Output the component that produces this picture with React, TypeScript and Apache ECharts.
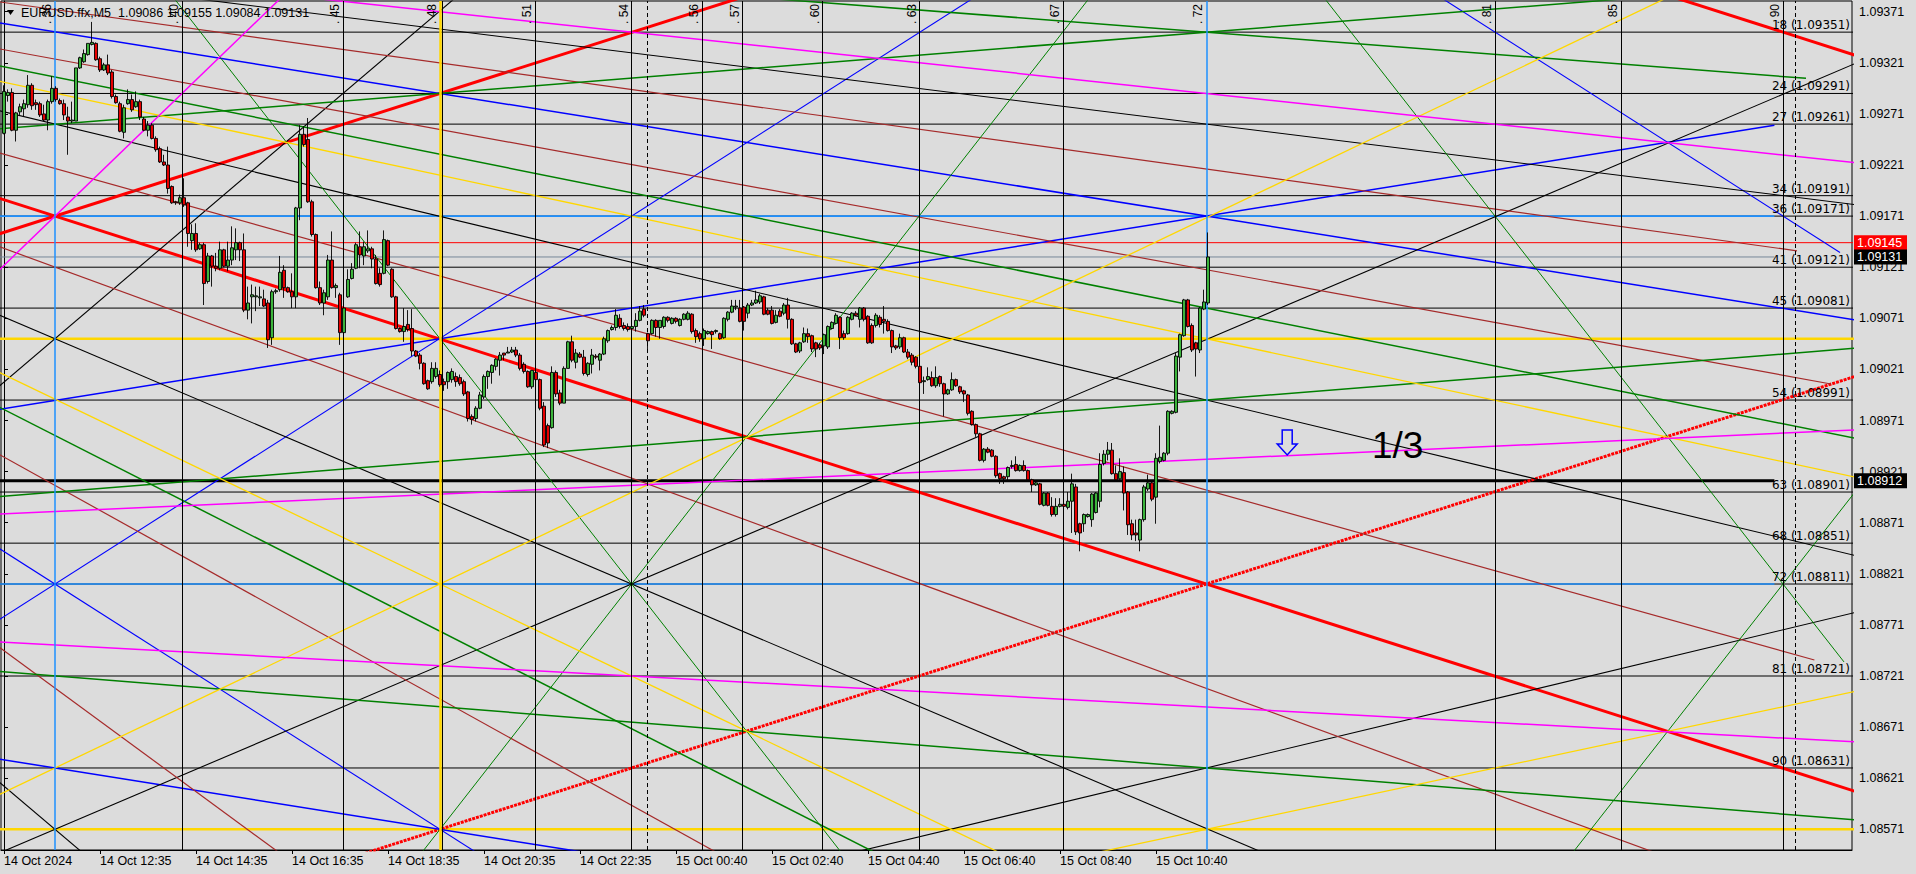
import React, { useEffect, useRef } from "react";
import * as echarts from "echarts";

// ---------- DATA ----------
const HEADER = "EURUSD.ffx,M5  1.09086 1.09155 1.09084 1.09131";

// OHLC of each M5 bar in points (price x 100000): [open, high, low, close]; bar 0 = 14 Oct 10:35
const CANDLES: number[][] = [
[109252,109299,109251,109293],[109289,109295,109283,109292],[109292,109296,109254,109255],[109255,109273,109244,109272],
[109273,109281,109270,109278],[109276,109285,109268,109281],[109280,109309,109277,109299],[109299,109301,109275,109279],
[109282,109285,109275,109280],[109281,109283,109268,109270],[109271,109280,109264,109265],[109265,109285,109255,109283],
[109283,109308,109281,109296],[109296,109298,109283,109285],[109284,109286,109280,109281],[109281,109285,109265,109270],
[109268,109278,109231,109264],[109264,109283,109262,109265],[109264,109316,109264,109316],[109316,109327,109315,109326],
[109322,109334,109321,109330],[109329,109340,109328,109340],[109339,109361,109338,109341],[109340,109341,109323,109324],
[109325,109327,109312,109314],[109314,109321,109313,109319],[109319,109329,109309,109311],[109312,109314,109286,109288],
[109288,109290,109281,109282],[109281,109283,109253,109254],[109253,109280,109247,109277],[109281,109295,109280,109285],
[109285,109290,109273,109275],[109278,109293,109277,109283],[109283,109285,109265,109268],[109266,109268,109254,109255],
[109255,109264,109249,109260],[109260,109262,109246,109247],[109247,109249,109234,109236],[109237,109239,109223,109224],
[109224,109231,109220,109221],[109221,109239,109193,109198],[109200,109201,109183,109184],[109185,109186,109182,109184],
[109184,109192,109182,109189],[109189,109208,109180,109182],[109184,109185,109141,109154],[109147,109163,109138,109154],
[109154,109164,109136,109138],[109139,109145,109138,109143],[109143,109145,109084,109105],[109107,109135,109105,109132],
[109132,109133,109102,109122],[109122,109135,109117,109120],[109120,109146,109118,109138],[109138,109139,109121,109122],
[109122,109146,109117,109128],[109128,109161,109123,109140],[109138,109159,109128,109145],[109145,109146,109127,109138],
[109138,109154,109077,109079],[109079,109102,109070,109086],[109092,109104,109066,109094],[109092,109102,109078,109093],
[109091,109102,109083,109092],[109090,109099,109082,109083],[109086,109089,109042,109050],[109052,109099,109045,109097],
[109097,109100,109095,109098],[109099,109132,109097,109116],[109118,109123,109091,109101],[109101,109102,109096,109097],
[109097,109115,109081,109092],[109092,109180,109081,109179],[109179,109260,109167,109251],[109251,109259,109239,109241],
[109246,109267,109184,109185],[109185,109187,109151,109153],[109153,109154,109100,109101],[109101,109107,109084,109086],
[109086,109099,109074,109096],[109092,109133,109089,109128],[109128,109156,109100,109101],[109101,109105,109091,109103],
[109094,109096,109045,109057],[109057,109088,109056,109081],[109092,109119,109091,109109],[109110,109125,109109,109119],
[109120,109145,109119,109143],[109141,109156,109120,109133],[109132,109146,109123,109141],[109137,109157,109135,109139],
[109139,109141,109120,109129],[109129,109133,109104,109105],[109115,109120,109102,109104],[109115,109157,109114,109148],
[109147,109148,109122,109123],[109119,109120,109091,109092],[109092,109093,109060,109061],[109061,109062,109057,109058],
[109058,109081,109048,109063],[109065,109079,109058,109060],[109061,109080,109034,109039],[109039,109040,109033,109034],
[109035,109037,109021,109027],[109027,109028,109006,109007],[109010,109011,109001,109002],[109009,109028,109007,109022],
[109014,109028,109012,109022],[109016,109020,109004,109006],[109009,109012,109000,109006],[109009,109019,109002,109018],
[109011,109022,109008,109019],[109014,109018,109004,109009],[109013,109016,109005,109007],[109009,109011,108995,108997],
[108999,109000,108970,108973],[108975,108977,108967,108972],[108973,108985,108970,108983],[108983,108999,108982,108996],
[108994,109016,108992,109014],[109014,109020,109002,109019],[109018,109026,109007,109025],[109024,109032,109020,109031],
[109030,109038,109015,109035],[109037,109037,109030,109035],[109037,109043,109037,109038],[109038,109043,109037,109040],
[109040,109043,109033,109035],[109035,109037,109020,109022],[109026,109028,109017,109019],[109019,109020,109003,109004],
[109004,109020,109002,109020],[109018,109020,109008,109011],[109011,109012,108981,108983],[108985,108989,108945,108947],
[108966,108968,108944,108949],[108964,109024,108963,109018],[109018,109020,108994,108997],[108998,109001,108986,108988],
[108988,109024,108988,109022],[109022,109049,109022,109048],[109048,109054,109028,109030],[109028,109041,109022,109037],
[109036,109038,109032,109033],[109033,109040,109015,109017],[109016,109028,109014,109027],[109026,109041,109017,109035],
[109034,109036,109031,109033],[109030,109037,109020,109036],[109036,109053,109035,109051],[109049,109060,109047,109059],
[109060,109064,109059,109062],[109062,109080,109059,109074],[109071,109075,109061,109063],[109064,109067,109059,109061],
[109063,109066,109058,109060],[109061,109066,109058,109063],[109063,109076,109058,109069],[109069,109083,109068,109078],
[109080,109084,109072,109074],[109056,109057,109037,109049],[109056,109070,109055,109069],[109069,109070,109053,109062],
[109062,109069,109051,109069],[109063,109073,109061,109072],[109072,109073,109067,109069],[109066,109072,109065,109071],
[109071,109072,109066,109068],[109064,109071,109063,109070],[109070,109076,109069,109075],[109070,109078,109069,109076],
[109075,109076,109056,109058],[109059,109061,109047,109053],[109056,109058,109048,109051],[109051,109061,109044,109059],
[109056,109059,109055,109058],[109058,109059,109041,109055],[109058,109060,109056,109059],[109056,109057,109050,109051],
[109052,109072,109051,109071],[109070,109078,109068,109077],[109077,109089,109076,109083],[109082,109089,109079,109083],
[109081,109089,109067,109068],[109082,109083,109059,109068],[109076,109086,109071,109084],[109084,109089,109083,109086],
[109086,109098,109085,109089],[109087,109095,109085,109093],[109092,109093,109074,109075],[109079,109081,109074,109075],
[109079,109083,109065,109066],[109067,109079,109066,109074],[109078,109080,109072,109073],[109076,109086,109074,109084],
[109084,109091,109061,109070],[109070,109071,109045,109046],[109046,109047,109037,109038],[109039,109048,109037,109047],
[109048,109062,109047,109056],[109056,109061,109047,109053],[109054,109055,109038,109041],[109047,109048,109033,109041],
[109045,109047,109040,109042],[109044,109056,109036,109055],[109043,109064,109041,109063],[109061,109068,109060,109067],
[109066,109076,109065,109074],[109072,109073,109041,109052],[109056,109059,109050,109052],[109056,109073,109055,109072],
[109070,109077,109069,109076],[109076,109078,109073,109074],[109070,109082,109062,109081],[109081,109082,109068,109070],
[109073,109074,109046,109047],[109064,109066,109046,109047],[109064,109076,109062,109074],[109072,109074,109062,109065],
[109070,109083,109056,109068],[109068,109070,109058,109059],[109059,109060,109037,109043],[109044,109045,109040,109042],
[109043,109056,109041,109052],[109052,109053,109037,109038],[109038,109041,109031,109033],[109035,109037,109025,109028],
[109033,109034,109022,109024],[109024,109025,109007,109008],[109009,109014,108997,109010],[109011,109023,109010,109014],
[109013,109019,109004,109005],[109005,109024,109003,109013],[109014,109015,109004,109007],[109007,109008,108975,108997],
[108997,109002,108996,109001],[109001,109018,109000,109011],[109011,109012,109004,109005],[109004,109005,108997,108999],
[109000,109001,108989,108997],[108996,108997,108976,108978],[108980,108981,108966,108967],[108967,108968,108955,108958],
[108958,108959,108931,108932],[108932,108944,108930,108943],[108943,108945,108939,108940],[108942,108943,108935,108936],
[108936,108937,108915,108917],[108919,108920,108909,108914],[108916,108917,108909,108914],[108916,108926,108912,108925],
[108926,108932,108924,108927],[108928,108936,108921,108922],[108922,108928,108921,108927],[108927,108932,108921,108922],
[108922,108923,108912,108913],[108913,108914,108901,108908],[108908,108911,108907,108910],[108909,108910,108888,108889],
[108888,108901,108887,108900],[108900,108901,108887,108888],[108887,108896,108877,108879],[108879,108895,108877,108887],
[108887,108895,108886,108889],[108889,108890,108886,108887],[108886,108901,108884,108892],[108892,108919,108861,108909],
[108906,108909,108859,108862],[108870,108871,108843,108861],[108870,108880,108862,108879],[108877,108880,108876,108879],
[108874,108900,108867,108899],[108881,108901,108880,108900],[108892,108939,108886,108928],[108929,108942,108927,108938],
[108938,108950,108932,108942],[108942,108949,108918,108919],[108919,108927,108912,108913],[108914,108934,108913,108921],
[108920,108926,108883,108900],[108901,108902,108859,108869],[108870,108874,108854,108859],[108861,108874,108853,108859],
[108854,108875,108843,108874],[108874,108908,108872,108906],[108904,108918,108902,108910],[108910,108911,108892,108894],
[108896,108939,108870,108934],[108931,108966,108929,108935],[108932,108940,108931,108939],[108939,108981,108937,108980],
[108978,108981,108977,108980],[108979,109037,108978,109034],[109033,109056,109019,109055],[109054,109090,109053,109089],
[109089,109090,109062,109063],[109064,109066,109038,109040],[109047,109048,109014,109041],[109040,109082,109037,109081],
[109080,109099,109079,109087],[109086,109155,109084,109131],
];

const TIME_LABELS: [number, string][] = [
  [0, "14 Oct 2024"], [24, "14 Oct 12:35"], [48, "14 Oct 14:35"], [72, "14 Oct 16:35"],
  [96, "14 Oct 18:35"], [120, "14 Oct 20:35"], [144, "14 Oct 22:35"], [168, "15 Oct 00:40"],
  [192, "15 Oct 02:40"], [216, "15 Oct 04:40"], [240, "15 Oct 06:40"], [264, "15 Oct 08:40"],
  [288, "15 Oct 10:40"],
];

const PRICE_TICKS: number[] = [
  1.08571, 1.08621, 1.08671, 1.08721, 1.08771, 1.08821, 1.08871, 1.08921, 1.08971,
  1.09021, 1.09071, 1.09121, 1.09171, 1.09221, 1.09271, 1.09321, 1.09371,
];

// Gann time lines (bar position)
const T = {
  V36: 12.75, V40: 44.5, V45: 84.75, V48: 109, V51: 132.7, V54: 156.9, V56: 174.5, V57: 184.65,
  V60: 204.65, V63: 228.9, V67: 264.75, V72: 300.6, V81: 372.75, V85: 404.25, V90: 444.75,
};
const TIME_LINES: [string, number, string][] = [
  ["36", T.V36, "lblue"], ["40", T.V40, "black"], ["45", T.V45, "black"], ["48", T.V48, "gold"],
  ["", 109.6, "black"], ["51", T.V51, "black"], ["54", T.V54, "black"], ["", 160.75, "dash"],
  ["56", T.V56, "black"], ["57", T.V57, "black"], ["60", T.V60, "black"], ["63", T.V63, "black"],
  ["67", T.V67, "black"], ["72", T.V72, "lblue"], ["81", T.V81, "black"], ["85", T.V85, "black"],
  ["90", T.V90, "black"], ["", 447.9, "dash"],
];

// Gann price levels
const LEVELS: [number, number][] = [
  [18, 1.09351], [24, 1.09291], [27, 1.09261], [34, 1.09191], [36, 1.09171], [41, 1.09121],
  [45, 1.09081], [54, 1.08991], [63, 1.08901], [68, 1.08851], [72, 1.08811], [81, 1.08721], [90, 1.08631],
];
const GOLD_LEVELS = [1.09051, 1.08571];
const ALERT_PRICE = 1.09145;
const BID_PRICE = 1.09131;
const MARK_PRICE = 1.08912;
const LEVEL_SEGMENT_END = 442.6; // bar where the short level objects stop
const BLUE_LEVELS = [1.09171, 1.08811];

// Trend / angle lines: [style, bar1, price1, bar2, price2, lastBar?]
const TRENDS: [string, number, number, number, number, number?][] = [
  ["redThick", T.V36, 1.09171, T.V72, 1.08811],
  ["redThick", T.V36, 1.09171, T.V48, 1.09291],
  ["redDotted", T.V72, 1.08811, T.V48, 1.08571],
  ["redThick", T.V90, 1.09351, T.V81, 1.09441],
  ["blue", T.V48, 1.09291, T.V72, 1.09171],
  ["blue", T.V48, 1.09051, T.V72, 1.09171, 442.6],
  ["blueThin", T.V36, 1.08811, T.V54, 1.09171],
  ["blueThin", T.V36, 1.08811, T.V48, 1.08571],
  ["blue", T.V36, 1.08631, T.V48, 1.08571],
  ["blueThin", T.V81, 1.09351, T.V90, 1.09171, 459],
  ["black", T.V36, 1.08571, T.V54, 1.08811],
  ["black", T.V36, 1.09051, T.V54, 1.08811],
  ["black", T.V36, 1.09051, T.V45, 1.09291],
  ["black", T.V36, 1.08571, T.V45, 1.08332],
  ["black", T.V36, 1.09261, T.V72, 1.08991],
  ["black", T.V72, 1.09261, T.V90, 1.09191],
  ["black", T.V72, 1.08631, T.V90, 1.087662],
  ["brown", -1, 1.093805, 448.25, 1.09137, 448.25],
  ["brown", -1, 1.093345, 456.75, 1.090067, 456.75],
  ["brown", -1, 1.092327, 452.6, 1.087367, 452.6],
  ["brown", -1, 1.091408, 411, 1.085507],
  ["brown", -0.2, 1.089356, 159, 1.085899],
  ["brown", -0.2, 1.087464, 67.9, 1.085507],
  ["green", -1, 1.093179, T.V72, 1.09081],
  ["green", T.V48, 1.09291, T.V72, 1.09351],
  ["green", T.V72, 1.09351, 450.5, 1.093058, 450.5],
  ["green", T.V36, 1.08901, T.V72, 1.08991],
  ["green", T.V36, 1.08721, T.V72, 1.08631],
  ["green", -0.3, 1.089823, 159, 1.086652],
  ["greenThin", T.V48, 1.09051, T.V54, 1.08811],
  ["greenThin", T.V48, 1.08571, T.V54, 1.08811],
  ["greenThin", T.V81, 1.09171, T.V90, 1.08811, 460],
  ["greenThin", T.V90, 1.08811, T.V81, 1.08451],
  ["yellow", T.V54, 1.09171, T.V72, 1.09051],
  ["yellow", T.V36, 1.08631, T.V48, 1.08811],
  ["yellow", T.V48, 1.08811, T.V54, 1.08721],
  ["yellow", T.V72, 1.08571, T.V81, 1.08631],
  ["magenta", T.V54, 1.09351, T.V72, 1.09291],
  ["magenta", T.V36, 1.09171, T.V40, 1.09291],
  ["magenta", -1, 1.088795, 462, 1.089617],
  ["magenta", -1, 1.087543, T.V54, 1.08721],
];

// annotation anchors [bar, price]
const ARROW_AT: [number, number] = [320.8, 1.089617];
const TEXT_AT: [number, number] = [342.0, 1.08947];
const TEXT_13 = "1/3";

// ---------- STYLE ----------
const STYLES: Record<string, any> = {
  redThick: { color: "#ff0000", width: 3, type: "solid" },
  redDotted: { color: "#ff0000", width: 3, type: [3, 1] },
  blue: { color: "#0000ff", width: 1.5, type: "solid" },
  blueThin: { color: "#0000ff", width: 1.1, type: "solid" },
  black: { color: "#000000", width: 1.1, type: "solid" },
  brown: { color: "#a52a2a", width: 1.2, type: "solid" },
  green: { color: "#008000", width: 1.5, type: "solid" },
  greenThin: { color: "#008000", width: 1, type: "solid" },
  yellow: { color: "#ffd700", width: 1.3, type: "solid" },
  magenta: { color: "#ff00ff", width: 1.5, type: "solid" },
};
const VSTYLES: Record<string, any> = {
  black: { color: "#000", width: 1, type: "solid" },
  lblue: { color: "#1e90ff", width: 1.5, type: "solid" },
  gold: { color: "#ffd700", width: 2.5, type: "solid" },
  dash: { color: "#000", width: 1, type: [4, 3] },
};
const BG = "#dcdcdc";
const FONT = "Liberation Sans";
const X_MIN = -0.75, X_MAX = 462;
const Y_MIN = 1.0855075, Y_MAX = 1.0938147;

export default function App() {
  const ref = useRef<HTMLDivElement>(null);
  useEffect(() => {
    document.body.style.margin = "0";
    const el = ref.current!;
    const chart = echarts.init(el, null, { renderer: "svg" });

    const labelByBar = new Map<number, string>(TIME_LABELS);

    const trendSeries = TRENDS.map(([s, b1, p1, b2, p2, last]) => {
      const m = (p2 - p1) / (b2 - b1);
      const from = -2;
      const to = last ?? 465;
      return {
        type: "line",
        silent: true,
        symbol: "none",
        clip: true,
        z: 3,
        lineStyle: STYLES[s],
        data: [[from, p1 + m * (from - b1)], [to, p1 + m * (to - b1)]],
      };
    });

    const hLine = (p: number, color: string, width: number, end: number, z = 2) => ({
      type: "line", silent: true, symbol: "none", clip: true, z,
      lineStyle: { color, width, type: "solid" },
      data: [[-2, p], [end, p]],
    });
    const hSeries: any[] = [
      ...LEVELS.map(([, p]) => hLine(p, "#000000", 1, 465)),
      ...GOLD_LEVELS.map((p) => hLine(p, "#ffd700", 2.5, 465)),
      hLine(ALERT_PRICE, "#ff0000", 1, 465),
      ...BLUE_LEVELS.map((p) => hLine(p, "#1e90ff", 1.6, LEVEL_SEGMENT_END, 3)),
      hLine(BID_PRICE, "#778899", 1, LEVEL_SEGMENT_END, 3),
      hLine(MARK_PRICE, "#000000", 3, LEVEL_SEGMENT_END, 3),
    ];

    const vMarks: any[] = TIME_LINES.map(([name, bar, st]) => ({
      xAxis: bar,
      lineStyle: VSTYLES[st],
      label: name
        ? { show: true, position: "insideEndTop", distance: [3, 2], formatter: `. ${name}`, color: "#000", fontSize: 12, fontFamily: FONT }
        : { show: false },
    }));

    const option: any = {
      animation: false,
      backgroundColor: BG,
      grid: {
        left: 1, top: 1, right: 64, bottom: 24, containLabel: false, outerBoundsMode: "none",
        show: true, borderColor: "#000", borderWidth: 1, backgroundColor: BG,
      },
      xAxis: {
        type: "value", min: X_MIN, max: X_MAX,
        splitLine: { show: false },
        axisLine: { show: true, lineStyle: { color: "#000", width: 1 } },
        axisTick: { show: true, customValues: TIME_LABELS.map((d) => d[0]), length: 4, lineStyle: { color: "#000" } },
        axisLabel: {
          customValues: TIME_LABELS.map((d) => d[0]), align: "left", margin: 4,
          formatter: (v: number) => labelByBar.get(v) ?? "",
          color: "#000", fontSize: 12.5, fontFamily: FONT,
        },
      },
      yAxis: {
        type: "value", position: "right", min: Y_MIN, max: Y_MAX,
        splitLine: { show: false },
        axisLine: { show: true, lineStyle: { color: "#000", width: 1 } },
        axisTick: { show: true, customValues: PRICE_TICKS, length: 4, lineStyle: { color: "#000" } },
        axisLabel: {
          customValues: PRICE_TICKS, margin: 7,
          formatter: (v: number) => v.toFixed(5),
          color: "#000", fontSize: 12.5, fontFamily: FONT,
        },
      },
      series: [
        {
          type: "line", data: [[-5, 1.09]], silent: true, symbol: "none", z: 2,
          markLine: { silent: true, symbol: ["none", "none"], animation: false, data: vMarks },
        },
        ...hSeries,
        ...trendSeries,
        {
          type: "candlestick",
          silent: true,
          z: 6,
          barWidth: 2.6,
          dimensions: ["t", "open", "close", "lowest", "highest"],
          encode: { x: 0, y: [1, 2, 3, 4] },
          itemStyle: {
            color: "#3cb43c", color0: "#e60000",
            borderColor: "#000", borderColor0: "#000", borderWidth: 0.9,
          },
          data: CANDLES.map((c, i) => [i, c[0] / 1e5, c[3] / 1e5, c[2] / 1e5, c[1] / 1e5]),
        },
      ],
    };
    chart.setOption(option);

    const px = (b: number, p: number) => chart.convertToPixel({ gridIndex: 0 }, [b, p]) as number[];
    const rightX = px(X_MAX, Y_MIN)[0];
    const a = px(ARROW_AT[0], ARROW_AT[1]);
    const t = px(TEXT_AT[0], TEXT_AT[1]);

    const levelTexts = LEVELS.map(([n, p]) => ({
      type: "text", z: 90, silent: true, x: rightX - 2, y: px(0, p)[1] - 1,
      style: { text: `${n} (${p.toFixed(5)})`, fill: "#000", font: `12px "DejaVu Sans"`, align: "right", verticalAlign: "bottom" },
    }));
    const tag = (p: number, bg: string) => {
      const y = px(0, p)[1];
      return [
        { type: "rect", z: 95, silent: true, shape: { x: rightX + 2, y: y - 7.5, width: 53, height: 15 }, style: { fill: bg } },
        { type: "text", z: 96, silent: true, x: rightX + 5, y, style: { text: p.toFixed(5), fill: "#fff", font: `12.5px "${FONT}"`, verticalAlign: "middle" } },
      ];
    };

    chart.setOption({
      graphic: {
        elements: [
          ...levelTexts,
          ...tag(ALERT_PRICE, "#ff0000"),
          ...tag(BID_PRICE, "#000000"),
          ...tag(MARK_PRICE, "#000000"),
          { type: "polygon", z: 100, silent: true, shape: { points: [[7, 10], [14, 10], [10.5, 15]] }, style: { fill: "#000" } },
          { type: "text", z: 100, silent: true, x: 21, y: 13, style: { text: HEADER, fill: "#000", font: `12.5px "${FONT}"`, verticalAlign: "middle" } },
          {
            type: "polygon", z: 100, silent: true, x: a[0] - 10, y: a[1],
            shape: { points: [[5, 0], [15, 0], [15, 14], [20, 14], [10, 25], [0, 14], [5, 14]] },
            style: { fill: "none", stroke: "#0000ff", lineWidth: 1.5 },
          },
          { type: "text", z: 100, silent: true, x: t[0], y: t[1], style: { text: TEXT_13, fill: "#000", font: `37px "${FONT}"`, verticalAlign: "middle" } },
        ],
      },
    });

    return () => chart.dispose();
  }, []);
  return <div ref={ref} style={{ width: 1916, height: 874 }} />;
}
